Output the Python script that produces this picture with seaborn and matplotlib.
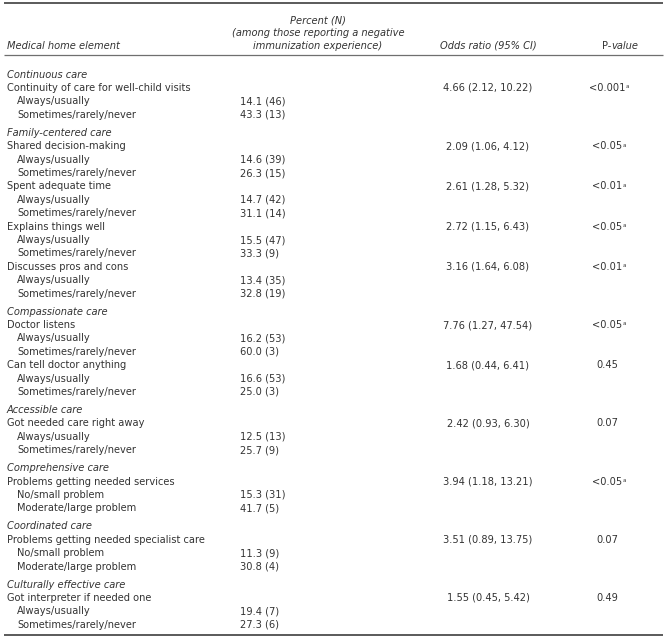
import matplotlib
matplotlib.use("Agg")
import matplotlib.pyplot as plt
import seaborn as sns

# ---------------- data ----------------
section_names = [
    "Continuous care", "Family-centered care", "Compassionate care",
    "Accessible care", "Comprehensive care", "Coordinated care",
    "Culturally effective care",
]
item_labels = [
    "Continuity of care for well-child visits",
    "Shared decision-making",
    "Spent adequate time",
    "Explains things well",
    "Discusses pros and cons",
    "Doctor listens",
    "Can tell doctor anything",
    "Got needed care right away",
    "Problems getting needed services",
    "Problems getting needed specialist care",
    "Got interpreter if needed one",
]
item_section = [0, 1, 1, 1, 1, 2, 2, 3, 4, 5, 6]
odds_ratio = [4.66, 2.09, 2.61, 2.72, 3.16, 7.76, 1.68, 2.42, 3.94, 3.51, 1.55]
ci_low = [2.12, 1.06, 1.28, 1.15, 1.64, 1.27, 0.44, 0.93, 1.18, 0.89, 0.45]
ci_high = [10.22, 4.12, 5.32, 6.43, 6.08, 47.54, 6.41, 6.30, 13.21, 13.75, 5.42]
p_values = ["<0.001", "<0.05", "<0.01", "<0.05", "<0.01",
            "<0.05", "0.45", "0.07", "<0.05", "0.07", "0.49"]
p_note = ["a", "a", "a", "a", "a", "a", "", "", "a", "", ""]
freq_labels = ["Always/usually", "Sometimes/rarely/never"]
problem_labels = ["No/small problem", "Moderate/large problem"]
item_response_type = [0, 0, 0, 0, 0, 0, 0, 0, 1, 1, 0]
pct_positive = [14.1, 14.6, 14.7, 15.5, 13.4, 16.2, 16.6, 12.5, 15.3, 11.3, 19.4]
n_positive = [46, 39, 42, 47, 35, 53, 53, 13, 31, 9, 7]
pct_negative = [43.3, 26.3, 31.1, 33.3, 32.8, 60.0, 25.0, 25.7, 41.7, 30.8, 27.3]
n_negative = [13, 15, 14, 9, 19, 3, 3, 9, 5, 4, 6]

header_element = "Medical home element"
header_percent = ["Percent (N)", "(among those reporting a negative", "immunization experience)"]
header_odds = "Odds ratio (95% CI)"
header_p = ["P-", "value"]

# ---------------- style ----------------
sns.set_theme(style="white")
plt.rcParams["font.family"] = ["DejaVu Sans"]
TXT = "#333333"
FS = 7.1
BL = 3.6  # baseline offset from row centre (px)

W, H = 667, 639
fig = plt.figure(figsize=(W / 100, H / 100), dpi=100)
ax = fig.add_axes([0, 0, 1, 1])
ax.set_xlim(0, W)
ax.set_ylim(H, 0)
ax.axis("off")
renderer = fig.canvas.get_renderer()

x_label = 7
x_indent = 17
x_pct = 240
x_pct_head = 318
x_odds = 488
x_p = 607


def put(x, y, s, ha="left", **kw):
    return ax.text(x, y + BL, s, ha=ha, va="baseline", fontsize=kw.pop("fs", FS),
                   color=TXT, **kw)


# header
for i, line in enumerate(header_percent):
    put(x_pct_head, 20 + 12.5 * i, line, ha="center", style="italic")
put(x_label, 45, header_element, style="italic")
put(x_odds, 45, header_odds, ha="center", style="italic")
put(x_p + 4, 45, header_p[0], ha="right")
put(x_p + 4, 45, header_p[1], style="italic")

ax.plot([4, 663], [3, 3], color="#4d4d4d", lw=1.3, solid_capstyle="butt")
ax.plot([4, 663], [55, 55], color="#6f6f6f", lw=0.9, solid_capstyle="butt")
ax.plot([4, 663], [634.5, 634.5], color="#4d4d4d", lw=1.3, solid_capstyle="butt")

# body
pitch = 13.4
gap = 4.6
y = 74
prev_section = None
for k, label in enumerate(item_labels):
    sec = item_section[k]
    if sec != prev_section:
        if prev_section is not None:
            y += gap
        put(x_label, y, section_names[sec], style="italic")
        y += pitch
        prev_section = sec
    put(x_label, y, label)
    put(x_odds, y, f"{odds_ratio[k]:.2f} ({ci_low[k]:.2f}, {ci_high[k]:.2f})", ha="center")
    t = put(x_p, y, p_values[k], ha="center")
    if p_note[k]:
        bb = t.get_window_extent(renderer)
        x_end = ax.transData.inverted().transform((bb.x1, bb.y0))[0]
        put(x_end + 0.8, y - 2.6, p_note[k], fs=FS * 0.55)
    y += pitch
    resp = freq_labels if item_response_type[k] == 0 else problem_labels
    for r, (pct, n) in enumerate([(pct_positive[k], n_positive[k]),
                                  (pct_negative[k], n_negative[k])]):
        put(x_indent, y, resp[r])
        put(x_pct, y, f"{pct:.1f} ({n})")
        y += pitch

fig.savefig("out.png", dpi=100, facecolor="white")
